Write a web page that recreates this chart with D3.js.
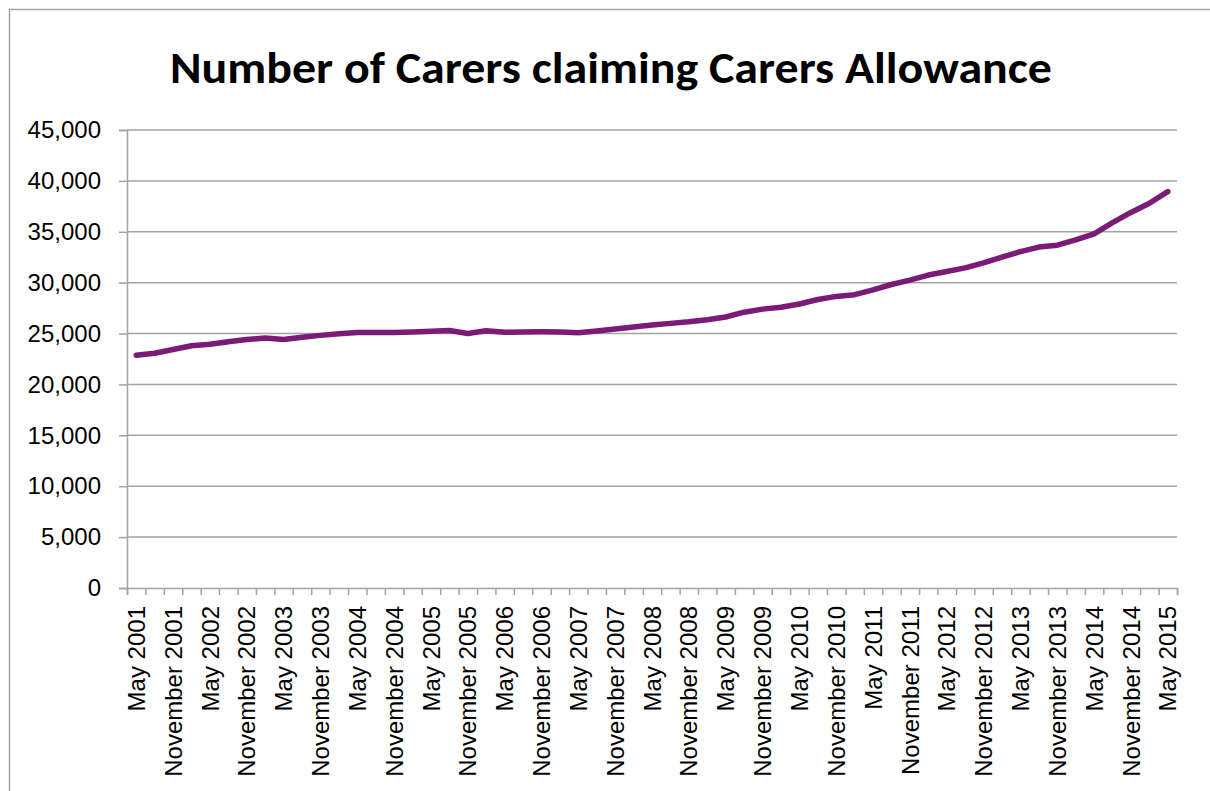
<!DOCTYPE html>
<html>
<head>
<meta charset="utf-8">
<script src="https://cdn.jsdelivr.net/npm/d3@7"></script>
<style>
  html, body { margin: 0; padding: 0; background: #fff; }
  svg { display: block; }
</style>
</head>
<body>
<svg id="chart" width="1210" height="791"></svg>
<script>
const title = "Number of Carers claiming Carers Allowance";

const categories = [
  "May 2001", "August 2001", "November 2001", "February 2002",
  "May 2002", "August 2002", "November 2002", "February 2003",
  "May 2003", "August 2003", "November 2003", "February 2004",
  "May 2004", "August 2004", "November 2004", "February 2005",
  "May 2005", "August 2005", "November 2005", "February 2006",
  "May 2006", "August 2006", "November 2006", "February 2007",
  "May 2007", "August 2007", "November 2007", "February 2008",
  "May 2008", "August 2008", "November 2008", "February 2009",
  "May 2009", "August 2009", "November 2009", "February 2010",
  "May 2010", "August 2010", "November 2010", "February 2011",
  "May 2011", "August 2011", "November 2011", "February 2012",
  "May 2012", "August 2012", "November 2012", "February 2013",
  "May 2013", "August 2013", "November 2013", "February 2014",
  "May 2014", "August 2014", "November 2014", "February 2015",
  "May 2015"
];

const carers = [
  22870, 23070, 23430, 23800, 23950, 24200, 24420, 24560,
  24420, 24640, 24820, 24980, 25100, 25100, 25100, 25150,
  25230, 25300, 25000, 25280, 25120, 25160, 25180, 25160,
  25080, 25250, 25450, 25650, 25830, 26000, 26150, 26350,
  26630, 27100, 27400, 27580, 27900, 28350, 28650, 28820,
  29300, 29820, 30250, 30750, 31100, 31450, 31950, 32500,
  33050, 33500, 33680, 34200, 34800, 35900, 36900, 37800,
  38950
];

const xLabels = [
  "May 2001", "November 2001", "May 2002", "November 2002", "May 2003",
  "November 2003", "May 2004", "November 2004", "May 2005", "November 2005",
  "May 2006", "November 2006", "May 2007", "November 2007", "May 2008",
  "November 2008", "May 2009", "November 2009", "May 2010", "November 2010",
  "May 2011", "November 2011", "May 2012", "November 2012", "May 2013",
  "November 2013", "May 2014", "November 2014", "May 2015"
];

const yTicks = [0, 5000, 10000, 15000, 20000, 25000, 30000, 35000, 40000, 45000];

(function () {
const svg = d3.select("#chart");
const W = 1210, H = 791;
const pLeft = 127, pRight = 1177, pTop = 130, pBottom = 588;
const grey = "#a3a3a3";
const fontAxis = "'Liberation Sans Narrow', 'Liberation Sans', Arial, sans-serif";

// outer frame (only top and left edges visible)
svg.append("rect")
  .attr("x", 9.5).attr("y", 9.5)
  .attr("width", W + 50).attr("height", H + 50)
  .attr("fill", "none").attr("stroke", grey).attr("stroke-width", 1.5);

// title
svg.append("text")
  .attr("x", 611).attr("y", 83)
  .attr("text-anchor", "middle")
  .attr("font-family", "Carlito, Calibri, Lato, 'Open Sans', sans-serif")
  .attr("font-weight", "bold")
  .attr("font-size", 45)
  .attr("textLength", 882)
  .attr("lengthAdjust", "spacingAndGlyphs")
  .attr("fill", "#000")
  .text(title);

const x = d3.scaleBand().domain(categories).range([pLeft, pRight]).paddingInner(0).paddingOuter(0);
const xEdge = d3.scaleLinear().domain([0, categories.length]).range([pLeft, pRight]);
const y = d3.scaleLinear().domain([0, 45000]).range([pBottom, pTop]);

// gridlines
svg.append("g")
  .selectAll("line")
  .data(yTicks.filter(d => d > 0))
  .join("line")
  .attr("x1", pLeft).attr("x2", pRight)
  .attr("y1", d => y(d)).attr("y2", d => y(d))
  .attr("stroke", grey).attr("stroke-width", 1.5);

// y axis
const yAxis = svg.append("g")
  .attr("transform", `translate(${pLeft},0)`)
  .call(d3.axisLeft(y).tickValues(yTicks).tickFormat(d3.format(",")).tickSize(8).tickPadding(18));
yAxis.select(".domain").attr("stroke", grey).attr("stroke-width", 1.5);
yAxis.selectAll(".tick line").attr("stroke", grey).attr("stroke-width", 1.5);
yAxis.selectAll("text")
  .attr("font-family", fontAxis).attr("font-size", 24).attr("fill", "#000");

// x axis tick marks at category boundaries
const xTickAxis = svg.append("g")
  .attr("transform", `translate(0,${pBottom})`)
  .call(d3.axisBottom(xEdge).tickValues(d3.range(categories.length + 1)).tickSize(7).tickFormat(""));
xTickAxis.select(".domain").attr("stroke", grey).attr("stroke-width", 1.5);
xTickAxis.selectAll(".tick line").attr("stroke", grey).attr("stroke-width", 1.5);

// x labels (every other category), band axis already centres ticks
const xLabelAxis = svg.append("g")
  .attr("transform", `translate(0,${pBottom})`)
  .call(d3.axisBottom(x).tickValues(xLabels).tickSize(0).tickPadding(0));
xLabelAxis.select(".domain").remove();
xLabelAxis.selectAll("text")
  .attr("font-family", fontAxis).attr("font-size", 24).attr("fill", "#000")
  .attr("text-anchor", "end")
  .attr("transform", "rotate(-90)")
  .attr("x", -18).attr("y", 0).attr("dy", "0.36em");

// line
const line = d3.line()
  .x((d, i) => x(categories[i]) + x.bandwidth() / 2)
  .y(d => y(d));

svg.append("path")
  .datum(carers)
  .attr("d", line)
  .attr("fill", "none")
  .attr("stroke", "#7a1b78")
  .attr("stroke-width", 5.5)
  .attr("stroke-linejoin", "round")
  .attr("stroke-linecap", "round");
})();
</script>
</body>
</html>
